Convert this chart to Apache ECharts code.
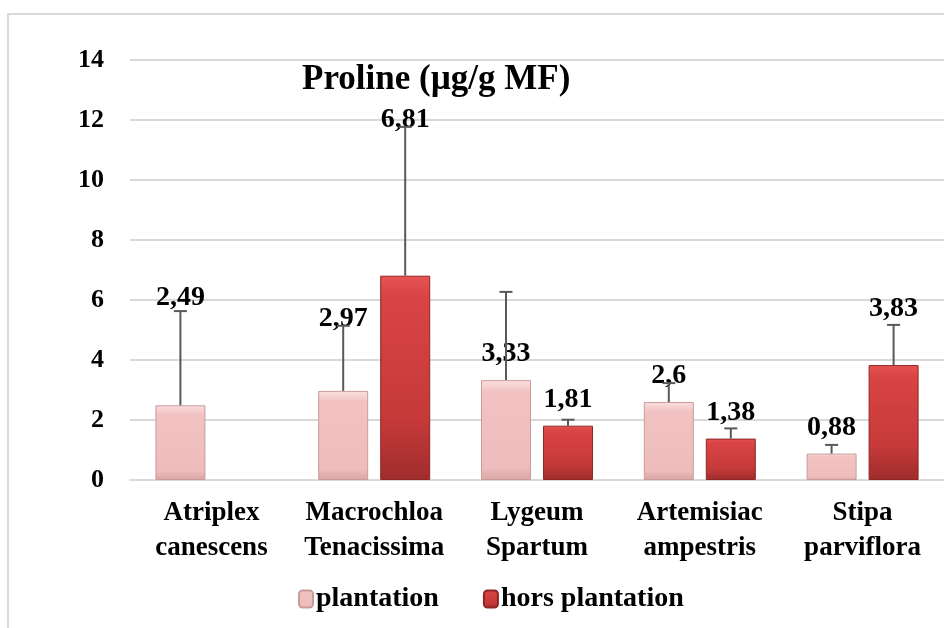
<!DOCTYPE html>
<html>
<head>
<meta charset="utf-8">
<script src="https://cdn.jsdelivr.net/npm/echarts@6/dist/echarts.min.js"></script>
<style>
html,body{margin:0;padding:0;background:#fff;}
#chart{width:944px;height:628px;}
</style>
</head>
<body>
<div id="chart"></div>
<script>
// ---- data ----
const categories = ['Atriplex\ncanescens', 'Macrochloa\nTenacissima', 'Lygeum\nSpartum', 'Artemisiac\nampestris', 'Stipa\nparviflora'];
const seriesNames = ['plantation', 'hors plantation'];
const plantation = [2.49, 2.97, 3.33, 2.6, 0.88];
const horsPlantation = [null, 6.81, 1.81, 1.38, 3.83];
const plantationErrTop = [5.63, 5.14, 6.27, 3.23, 1.17];
const horsErrTop = [null, 11.77, 2.01, 1.72, 5.17];
const yTicks = [0, 2, 4, 6, 8, 10, 12, 14];
const titleText = 'Proline (µg/g MF)';

// ---- style ----
const FONT = '"Liberation Serif", "Times New Roman", serif';
const BAR_W = 50;
const BAR_GAP_PX = 12;
const labelLift = { plantation: [82, 46, 0, 0, 0], hors: [0, 130, 0, 0, 30] };

const fmt = v => String(v).replace('.', ',');

function barData(values, lifts) {
  return values.map((v, i) => {
    if (v == null) return '-';
    const o = { value: v };
    if (lifts[i]) o.label = { offset: [0, -lifts[i]] };
    return o;
  });
}

function errSeries(values, tops, side) {
  return {
    type: 'custom',
    z: 5,
    silent: true,
    data: values.map((v, i) => [i, v == null ? NaN : v, tops[i] == null ? NaN : tops[i]]),
    renderItem: function (params, api) {
      const v = api.value(1), t = api.value(2);
      if (isNaN(v) || isNaN(t)) return null;
      const p0 = api.coord([api.value(0), v]);
      const p1 = api.coord([api.value(0), t]);
      const x = p0[0] + side * (BAR_W + BAR_GAP_PX) / 2;
      const cap = 6.5;
      const style = { stroke: '#595959', lineWidth: 2 };
      return {
        type: 'group',
        children: [
          { type: 'line', shape: { x1: x, y1: p0[1], x2: x, y2: p1[1] }, style: style },
          { type: 'line', shape: { x1: x - cap, y1: p1[1], x2: x + cap, y2: p1[1] }, style: style }
        ]
      };
    }
  };
}

const chart = echarts.init(document.getElementById('chart'));
const labelCommon = {
  show: true,
  position: 'top',
  distance: 12,
  fontFamily: FONT,
  fontWeight: 'bold',
  fontSize: 28,
  color: '#000',
  formatter: p => fmt(p.value)
};

chart.setOption({
  animation: false,
  backgroundColor: '#fff',
  textStyle: { fontFamily: FONT },
  graphic: [
    { type: 'rect', shape: { x: 8, y: 14, width: 1000, height: 1000 }, style: { fill: 'none', stroke: '#D9D9D9', lineWidth: 2 }, z: -10 },
    { type: 'text', left: 302, top: 62, style: { text: titleText, font: 'bold 35px ' + FONT, fill: '#000' }, z: 10 }
  ],
  grid: { left: 130, right: -2, top: 60, bottom: 148 },
  legend: {
    left: 293,
    top: 580,
    itemWidth: 14,
    itemHeight: 17,
    itemGap: 44,
    textStyle: { fontFamily: FONT, fontWeight: 'bold', fontSize: 28, color: '#000', padding: [0, 0, 0, -2] },
    data: seriesNames
  },
  xAxis: {
    type: 'category',
    data: categories,
    axisLine: { lineStyle: { color: '#D9D9D9', width: 2 } },
    axisTick: { show: false },
    axisLabel: { margin: 16, fontFamily: FONT, fontWeight: 'bold', fontSize: 27, lineHeight: 35, color: '#000', interval: 0 }
  },
  yAxis: {
    type: 'value',
    min: yTicks[0],
    max: yTicks[yTicks.length - 1],
    interval: 2,
    axisLine: { show: false },
    axisTick: { show: false },
    splitLine: { lineStyle: { color: '#D9D9D9', width: 2 } },
    axisLabel: { margin: 26, fontFamily: FONT, fontWeight: 'bold', fontSize: 26, color: '#000' }
  },
  series: [
    {
      name: seriesNames[0],
      type: 'bar',
      barWidth: BAR_W,
      barGap: (BAR_GAP_PX / BAR_W * 100) + '%',
      z: 2,
      itemStyle: {
        color: new echarts.graphic.LinearGradient(0, 0, 0, 1, [
          { offset: 0, color: '#FAE0E0' },
          { offset: 0.12, color: '#F2C2C2' },
          { offset: 0.88, color: '#EEBCBC' },
          { offset: 1, color: '#D9A4A4' }
        ]),
        borderColor: '#C99C9C',
        borderWidth: 1
      },
      label: labelCommon,
      data: barData(plantation, labelLift.plantation)
    },
    {
      name: seriesNames[1],
      type: 'bar',
      barWidth: BAR_W,
      z: 2,
      itemStyle: {
        color: new echarts.graphic.LinearGradient(0, 0, 0, 1, [
          { offset: 0, color: '#E65454' },
          { offset: 0.1, color: '#D94444' },
          { offset: 0.7, color: '#C63A3A' },
          { offset: 1, color: '#A02C2C' }
        ]),
        borderColor: '#8E2626',
        borderWidth: 1
      },
      label: labelCommon,
      data: barData(horsPlantation, labelLift.hors)
    },
    errSeries(plantation, plantationErrTop, -1),
    errSeries(horsPlantation, horsErrTop, 1)
  ]
});
</script>
</body>
</html>
